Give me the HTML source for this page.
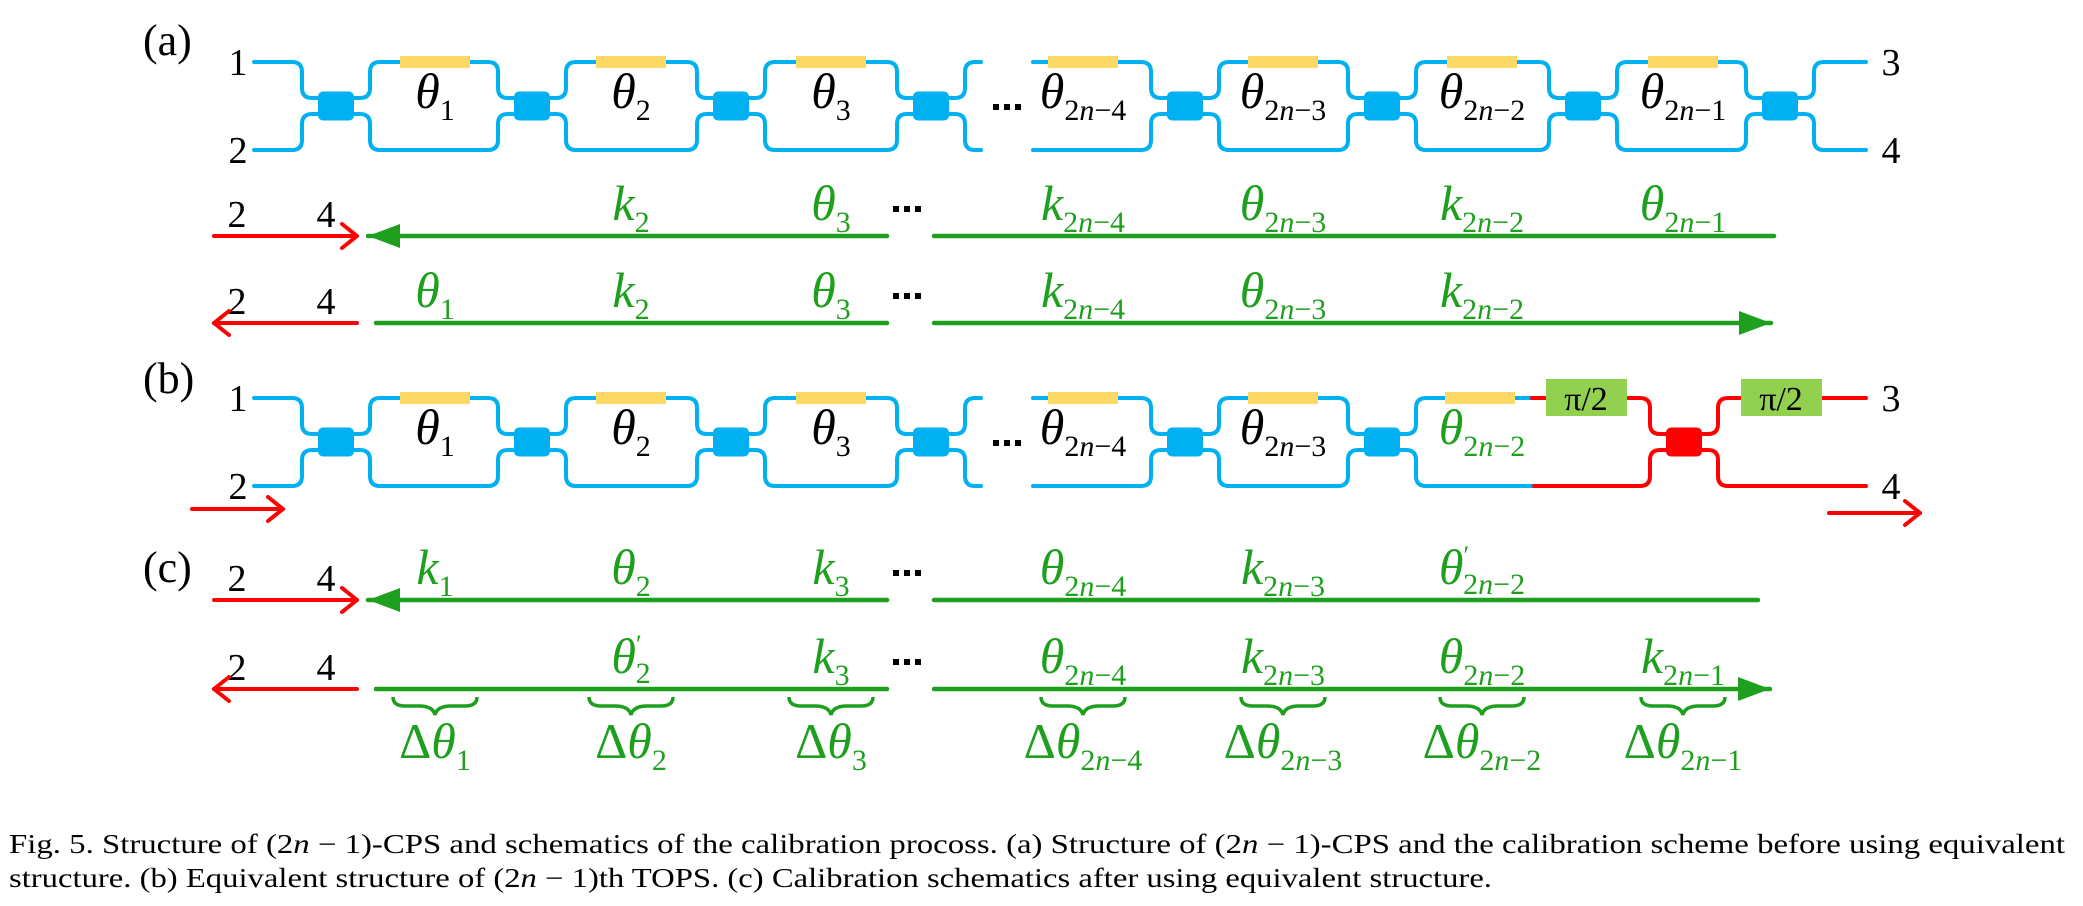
<!DOCTYPE html>
<html><head><meta charset="utf-8">
<style>
html,body{margin:0;padding:0;background:#fff;}
svg{display:block;font-family:"Liberation Serif","DejaVu Serif","Times New Roman",serif;}
svg text, svg tspan{font-family:"Liberation Serif","DejaVu Serif","Times New Roman",serif;}
</style></head>
<body>
<svg id="fig" xmlns="http://www.w3.org/2000/svg" width="2083" height="906" viewBox="0 0 2083 906">
<g id="layer"></g>
<text x="9" y="853" font-size="27" textLength="2056" lengthAdjust="spacingAndGlyphs">Fig. 5.  Structure of (2<tspan font-style="italic">n</tspan> − 1)-CPS and schematics of the calibration procoss. (a) Structure of (2<tspan font-style="italic">n</tspan> − 1)-CPS and the calibration scheme before using equivalent</text>
<text x="9" y="887" font-size="27" textLength="1483" lengthAdjust="spacingAndGlyphs">structure. (b) Equivalent structure of (2<tspan font-style="italic">n</tspan> − 1)th TOPS. (c) Calibration schematics after using equivalent structure.</text>
</svg>
<script>
const NS='http://www.w3.org/2000/svg';
const layer=document.getElementById('layer');
const couplers=[336,532,731,931,1185,1382,1583,1780];
const columns=[435,631,831,1083,1283,1482,1683];
const BLUE='#00b0f0',RED='#ff0000',GREEN='#1ea01e',YEL='#ffd966',BOXG='#92d050';
function el(tag,attrs,parent){const e=document.createElementNS(NS,tag);for(const k in attrs)e.setAttribute(k,attrs[k]);(parent||layer).appendChild(e);return e;}
function wg(d,color,name){const p=el('path',{d:d,fill:'none',stroke:color,'stroke-width':4,'stroke-linecap':'round'});

return p;}
function coupler(cx,cy,color,name){const r=el('rect',{x:cx-18,y:cy-14.5,width:36,height:29,rx:5,fill:color});

}
function heater(cx,y,name){const r=el('rect',{x:cx-35,y:y-6,width:70,height:12,fill:YEL});

}
const R=10;
function arm(a,b,M,Y,dir){const yi=M+dir*8;const s=dir<0?-1:1;
return `M${a+16},${yi} H${a+34-R} Q${a+34},${yi} ${a+34},${yi+s*R} V${Y-s*R} Q${a+34},${Y} ${a+34+R},${Y} H${b-34-R} Q${b-34},${Y} ${b-34},${Y-s*R} V${yi+s*R} Q${b-34},${yi} ${b-34+R},${yi} H${b-16}`;}
function leadIn(c,M,Y,dir,x0){const yi=M+dir*8;const s=dir<0?-1:1;
return `M${x0},${Y} H${c-34-R} Q${c-34},${Y} ${c-34},${Y-s*R} V${yi+s*R} Q${c-34},${yi} ${c-34+R},${yi} H${c-16}`;}
function leadOut(c,M,Y,dir,x1){const yi=M+dir*8;const s=dir<0?-1:1;
return `M${c+16},${yi} H${c+34-R} Q${c+34},${yi} ${c+34},${yi+s*R} V${Y-s*R} Q${c+34},${Y} ${c+34+R},${Y} H${x1}`;}
function txt(x,y,size,color,parts,name,anchor){const t=el('text',{x:x,y:y,'font-size':size,fill:color,'text-anchor':anchor||'middle'});


parts.forEach(p=>{const ts=el('tspan',p.a||{},t);ts.textContent=p.t;if(p.it)ts.setAttribute('font-style','italic');});return t;}
function sym(x,y,color,main,sub,name,prime,size){size=size||50;const parts=[{t:main,it:true}];
if(prime){parts.push({t:'\u2032',a:{dy:-20,'font-size':26}});parts.push({t:sub,a:{dx:-6,dy:30,'font-size':30}});}
else parts.push({t:sub,a:{dy:12,'font-size':30}});
const t=txt(x,y,size,color,[],name);
parts.forEach(p=>{const pieces=p.a&&p.a['font-size']==30?p.t.split(/(n)/):[p.t];
pieces.forEach((pc,i)=>{if(!pc)return;const a=i===0||(pieces[0]===''&&i===1)?(p.a||{}):{};const ts=el('tspan',a,t);ts.textContent=pc;
if(p.it||pc==='n')ts.setAttribute('font-style','italic');if(p.a&&p.a['font-size'])ts.setAttribute('font-size',p.a['font-size']);});});
return t;}
function dots(x,y,name){const g=el('g',{});
for(let i=0;i<3;i++)el('rect',{x:x+i*11,y:y-3,width:6,height:6,fill:'#000'},g);}
function redArrow(x0,x1,y,dirRight,name){const g=el('g',{fill:'none',stroke:RED,'stroke-width':4,'stroke-linecap':'round','stroke-linejoin':'round'});

el('path',{d:`M${x0},${y} H${x1}`},g);
if(dirRight)el('path',{d:`M${x1-15},${y-12} L${x1},${y} L${x1-15},${y+12}`},g);
else el('path',{d:`M${x0+15},${y-12} L${x0},${y} L${x0+15},${y+12}`},g);}
function greenLine(x0,x1,y,arrow,name){const g=el('g',{});
el('path',{d:`M${x0},${y} H${x1}`,stroke:GREEN,'stroke-width':4.5,'stroke-linecap':'round'},g);
if(arrow==='left'){el('path',{d:`M${x0},${y} L${x0+32},${y-12} L${x0+32},${y+12} Z`,fill:GREEN},g);}
if(arrow==='right'){el('path',{d:`M${x1},${y} L${x1-32},${y-12} L${x1-32},${y+12} Z`,fill:GREEN},g);}}
function brace(cx,y,name){const p=el('path',{d:`M${cx-42},${y} q0,9 12,9 h14 q14,0 16,9 q2,-9 16,-9 h14 q12,0 12,-9`,fill:'none',stroke:GREEN,'stroke-width':3.5});
}

txt(143,55,44,'#000',[{t:'(a)'}],'panel-label-a','start');
txt(143,393,44,'#000',[{t:'(b)'}],'panel-label-b','start');
txt(143,582,44,'#000',[{t:'(c)'}],'panel-label-c','start');

function circuit(T,B,isB){const M=(T+B)/2;const tag=isB?'b':'a';
txt(238,T+13,38,'#000',[{t:'1'}],'port-1-'+tag);
txt(238,B+13,38,'#000',[{t:'2'}],'port-2-'+tag);
wg(leadIn(couplers[0],M,T,-1,254),BLUE,'input-top-'+tag);
wg(leadIn(couplers[0],M,B,1,254),BLUE,'input-bottom-'+tag);
const n=isB?6:8;
for(let i=0;i<n;i++)coupler(couplers[i],M,BLUE,'coupler-'+(i+1)+'-'+tag);
for(let i=0;i<n-1;i++){const a=couplers[i],b=couplers[i+1];
 if(i===3){
  const s=a+34;
  wg(`M${a+16},${M-8} H${s-R} Q${s},${M-8} ${s},${M-8-R} V${T+R} Q${s},${T} ${s+R},${T} H${s+16}`,BLUE,'break-stub-top-'+tag);
  wg(`M${a+16},${M+8} H${s-R} Q${s},${M+8} ${s},${M+8+R} V${B-R} Q${s},${B} ${s+R},${B} H${s+16}`,BLUE,'break-stub-bottom-'+tag);
  const e=b-34;
  wg(`M1033,${T} H${e-R} Q${e},${T} ${e},${T+R} V${M-8-R} Q${e},${M-8} ${e+R},${M-8} H${b-16}`,BLUE,'break-resume-top-'+tag);
  wg(`M1033,${B} H${e-R} Q${e},${B} ${e},${B-R} V${M+8+R} Q${e},${M+8} ${e+R},${M+8} H${b-16}`,BLUE,'break-resume-bottom-'+tag);
  dots(993,M+1,'circuit-ellipsis-'+tag);
 } else {
  wg(arm(a,b,M,T,-1),BLUE,'mzi-arm-top-'+(i+1)+'-'+tag);
  wg(arm(a,b,M,B,1),BLUE,'mzi-arm-bottom-'+(i+1)+'-'+tag);
 }
 heater(columns[i],T,'heater-'+(i+1)+'-'+tag);
}
const subs=['1','2','3','2n\u22124','2n\u22123','2n\u22122','2n\u22121'];
for(let i=0;i<n-1;i++)sym(columns[i],T+46,'#000','\u03b8',subs[i],'phase-label-'+(i+1)+'-'+tag);
if(!isB){
 const c=couplers[7];
 wg(leadOut(c,M,T,-1,1866),BLUE,'output-top-a');
 wg(leadOut(c,M,B,1,1866),BLUE,'output-bottom-a');
 txt(1891,T+13,38,'#000',[{t:'3'}],'port-3-a');
 txt(1891,B+13,38,'#000',[{t:'4'}],'port-4-a');
} else {
 const a=couplers[5],rc=1684;
 wg(`M${a+16},${M-8} H${a+34-R} Q${a+34},${M-8} ${a+34},${M-8-R} V${T+R} Q${a+34},${T} ${a+34+R},${T} H1532`,BLUE,'mzi-arm-top-6-b');
 wg(`M1532,${T} H${rc-34-R} Q${rc-34},${T} ${rc-34},${T+R} V${M-8-R} Q${rc-34},${M-8} ${rc-34+R},${M-8} H${rc-16}`,RED,'red-arm-top-b');
 wg(`M${a+16},${M+8} H${a+34-R} Q${a+34},${M+8} ${a+34},${M+8+R} V${B-R} Q${a+34},${B} ${a+34+R},${B} H1534`,BLUE,'mzi-arm-bottom-6-b');
 wg(`M1534,${B} H${rc-34-R} Q${rc-34},${B} ${rc-34},${B-R} V${M+8+R} Q${rc-34},${M+8} ${rc-34+R},${M+8} H${rc-16}`,RED,'red-arm-bottom-b');
 heater(1480,T,'heater-6-b');
 sym(1482,T+46,GREEN,'\u03b8','2n\u22122','phase-label-6-b');
 coupler(rc,M,RED,'red-coupler-b');
 wg(leadOut(rc,M,T,-1,1866),RED,'output-top-b');
 wg(leadOut(rc,M,B,1,1866),RED,'output-bottom-b');
 [[1546,'pi-half-box-1'],[1741,'pi-half-box-2']].forEach(([x,nm])=>{
  const r=el('rect',{x:x,y:T-19,width:81,height:37,fill:BOXG});
  
  
  txt(x+40,T+12,34,'#000',[{t:'\u03c0/2'}],nm+'-label');});
 txt(1891,T+13,38,'#000',[{t:'3'}],'port-3-b');
 txt(1891,B+13,38,'#000',[{t:'4'}],'port-4-b');
}}
circuit(62,150,false);
circuit(398,486,true);
redArrow(192,283,509,true,'input-arrow-b');
redArrow(1829,1920,513,true,'output-arrow-b');

function portLabels(y,tag){txt(237,y-9,38,'#000',[{t:'2'}],'row-port-2-'+tag);txt(326,y-9,38,'#000',[{t:'4'}],'row-port-4-'+tag);}
function row(y,leftward,labels,tag,endArrow,end){
 portLabels(y,tag);
 redArrow(214,357,y,leftward,'red-arrow-'+tag);
 greenLine(leftward?368:376,887,y,leftward?'left':null,'green-line-left-'+tag);
 greenLine(934,end,y,endArrow?'right':null,'green-line-right-'+tag);
 dots(893,y-27,'row-ellipsis-'+tag);
 labels.forEach((L,i)=>{if(!L)return;sym(columns[i],y-16,GREEN,L[0],L[1],'row-label-'+tag+'-'+i,L[2]);});
}
const TH='\u03b8';
row(236,true,[null,['k','2'],[TH,'3'],['k','2n\u22124'],[TH,'2n\u22123'],['k','2n\u22122'],[TH,'2n\u22121']],'a1',false,1774);
row(323,false,[[TH,'1'],['k','2'],[TH,'3'],['k','2n\u22124'],[TH,'2n\u22123'],['k','2n\u22122'],null],'a2',true,1771);
row(600,true,[['k','1'],[TH,'2'],['k','3'],[TH,'2n\u22124'],['k','2n\u22123'],[TH,'2n\u22122',true],null],'c1',false,1758);
row(689,false,[null,[TH,'2',true],['k','3'],[TH,'2n\u22124'],['k','2n\u22123'],[TH,'2n\u22122'],['k','2n\u22121']],'c2',true,1770);
const dsubs=['1','2','3','2n\u22124','2n\u22123','2n\u22122','2n\u22121'];
columns.forEach((cx,i)=>{brace(cx,697,'brace-'+(i+1));
 const t=sym(cx,758,GREEN,TH,dsubs[i],'delta-theta-'+(i+1));
 const d=document.createElementNS(NS,'tspan');d.textContent='\u0394';d.setAttribute('font-style','normal');t.insertBefore(d,t.firstChild);});
</script>
</body></html>
